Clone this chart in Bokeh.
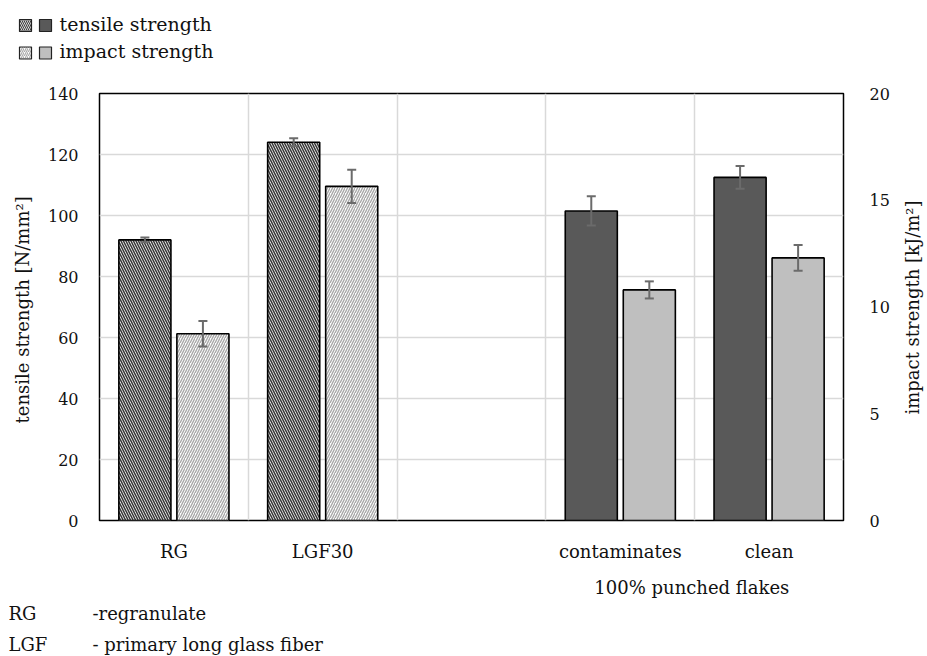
import math
from bokeh.plotting import figure
from bokeh.models import (Range1d, LinearAxis, FixedTicker, Whisker, ColumnDataSource,
                          TeeHead, Grid)
from bokeh.layouts import column, row
from bokeh.core.properties import value
from bokeh.embed import file_html
from bokeh.resources import INLINE

# ---------------- data ----------------
categories = ["RG", "LGF30", "", "contaminates", "clean"]
bar_categories = ["RG", "LGF30", "contaminates", "clean"]
tensile = [92.0, 124.0, 101.5, 112.5]          # N/mm²
tensile_err = [0.8, 1.3, 4.8, 3.7]
impact = [8.75, 15.65, 10.8, 12.3]             # kJ/m²
impact_err = [0.6, 0.78, 0.4, 0.6]
hatched = [True, True, False, False]
left_ticks = [0, 20, 40, 60, 80, 100, 120, 140]
right_ticks = [0, 5, 10, 15, 20]
left_title = "tensile strength  [N/mm²]"
right_title = "impact strength [kJ/m²]"
group_label = "100% punched  flakes"
group_members = ["contaminates", "clean"]
series_names = ["tensile strength", "impact strength"]
footnote_abbr = ["RG", "LGF"]
footnote_text = ["-regranulate", "- primary  long glass fiber"]

FONT = "DejaVu Serif"
TEXT = "#111111"
DARK = "#595959"
LIGHT = "#bfbfbf"
HATCH_DARK = "#3a3a3a"
HATCH_LIGHT = "#a8a8a8"
GRID = "#d9d9d9"
ERR = "#6b6b6b"

pos = {c: i + 0.5 for i, c in enumerate(categories)}
OFF = 0.195
BW = 0.35

TOP_H, MAIN_H, FOOT_H = 78, 522, 56
MAIN_W, RL_W = 896, 31
TOTAL_W = MAIN_W + RL_W


def blank_fig(w, h):
    f = figure(width=w, height=h, x_range=Range1d(0, w), y_range=Range1d(h, 0),
               x_axis_type=None, y_axis_type=None, output_backend="svg",
               toolbar_location=None, min_border=0)
    f.outline_line_color = None
    f.background_fill_color = "white"
    f.border_fill_color = "white"
    f.frame_align = False
    return f


# ---------------- main chart ----------------
p = figure(width=MAIN_W, height=MAIN_H, x_range=Range1d(0, len(categories)),
           y_range=Range1d(0, left_ticks[-1]),
           x_axis_type=None, y_axis_type=None, output_backend="svg", toolbar_location=None,
           min_border_left=99, min_border_right=53, min_border_top=15, min_border_bottom=79)
p.extra_y_ranges = {"impact": Range1d(0, right_ticks[-1])}
p.background_fill_color = "white"
p.border_fill_color = "white"
p.outline_line_color = "black"
p.outline_line_width = 1.5

p.add_layout(Grid(dimension=0, ticker=FixedTicker(ticks=[1, 2, 3, 4]),
                  grid_line_color=GRID, grid_line_width=1.5))
p.add_layout(Grid(dimension=1, ticker=FixedTicker(ticks=left_ticks),
                  grid_line_color=GRID, grid_line_width=1.5))


def style_axis(ax, size="16px"):
    ax.axis_line_color = None
    ax.major_tick_line_color = None
    ax.minor_tick_line_color = None
    ax.major_tick_out = 0
    ax.major_tick_in = 0
    ax.minor_tick_out = 0
    ax.minor_tick_in = 0
    ax.major_label_text_font = FONT
    ax.major_label_text_font_size = size
    ax.major_label_text_color = TEXT
    ax.axis_label_text_font = FONT
    ax.axis_label_text_font_size = "18px"
    ax.axis_label_text_font_style = "normal"
    ax.axis_label_text_color = TEXT


yl = LinearAxis(ticker=FixedTicker(ticks=left_ticks), axis_label=left_title)
style_axis(yl)
yl.major_label_standoff = 21
yl.axis_label_standoff = 12
p.add_layout(yl, "left")

yr = LinearAxis(y_range_name="impact", ticker=FixedTicker(ticks=right_ticks))
style_axis(yr)
yr.major_label_standoff = 26
p.add_layout(yr, "right")

xb = LinearAxis(ticker=FixedTicker(ticks=[pos[c] for c in bar_categories]),
                major_label_overrides={pos[c]: c for c in bar_categories})
style_axis(xb, "18px")
xb.major_label_standoff = 20
p.add_layout(xb, "below")

gx = sum(pos[c] for c in group_members) / len(group_members)
xg = LinearAxis(ticker=FixedTicker(ticks=[gx]), major_label_overrides={gx: group_label})
style_axis(xg, "18px")
xg.major_label_standoff = 12
p.add_layout(xg, "below")

src_t = ColumnDataSource(dict(
    x=[pos[c] - OFF for c in bar_categories],
    top=tensile,
    lo=[v - e for v, e in zip(tensile, tensile_err)],
    hi=[v + e for v, e in zip(tensile, tensile_err)],
    fill=["white" if h else DARK for h in hatched],
    hatch=["\\" if h else " " for h in hatched],
))
src_i = ColumnDataSource(dict(
    x=[pos[c] + OFF for c in bar_categories],
    top=impact,
    lo=[v - e for v, e in zip(impact, impact_err)],
    hi=[v + e for v, e in zip(impact, impact_err)],
    fill=["white" if h else LIGHT for h in hatched],
    hatch=["/" if h else " " for h in hatched],
))

p.vbar(x="x", top="top", width=BW, source=src_t, fill_color="fill", hatch_pattern="hatch",
       hatch_color=HATCH_DARK, hatch_scale=5, hatch_weight=1.6, line_color="black", line_width=1.6)
p.vbar(x="x", top="top", width=BW, source=src_i, fill_color="fill", hatch_pattern="hatch",
       hatch_color=HATCH_LIGHT, hatch_scale=5, hatch_weight=1.4, line_color="black", line_width=1.6,
       y_range_name="impact")

for src, rng in ((src_t, "default"), (src_i, "impact")):
    p.add_layout(Whisker(source=src, base="x", upper="hi", lower="lo", y_range_name=rng,
                         line_color=ERR, line_width=2, level="overlay",
                         upper_head=TeeHead(size=9, line_color=ERR, line_width=2),
                         lower_head=TeeHead(size=9, line_color=ERR, line_width=2)))

# ---------------- right axis title (reads bottom to top) ----------------
rl = blank_fig(RL_W, MAIN_H)
rl.text(x=[16], y=[15 + 428 / 2], text=[right_title], angle=math.pi / 2,
        text_font=value(FONT), text_font_size="18px", text_color=TEXT,
        text_align="center", text_baseline="middle")

# ---------------- legend (top) ----------------
leg = blank_fig(TOTAL_W, TOP_H)
row_y = [25, 52.5]
hatch_pats = ["\\", "/"]
hatch_cols = [HATCH_DARK, HATCH_LIGHT]
solid_cols = [DARK, LIGHT]
for i, name in enumerate(series_names):
    y0 = row_y[i]
    leg.quad(left=[19], right=[31], top=[y0 - 6], bottom=[y0 + 6], fill_color="white",
             hatch_pattern=hatch_pats[i], hatch_color=hatch_cols[i], hatch_scale=4,
             hatch_weight=1.1, line_color="#222222", line_width=1.2)
    leg.quad(left=[39], right=[51], top=[y0 - 6], bottom=[y0 + 6], fill_color=solid_cols[i],
             line_color="#222222", line_width=1.2)
    leg.text(x=[59], y=[y0 - 2], text=[name], text_font=value(FONT), text_font_size="19px",
             text_color=TEXT, text_baseline="middle", text_align="left")

# ---------------- footnote (bottom) ----------------
foot = blank_fig(TOTAL_W, FOOT_H)
foot_y = [13, 44]
foot.text(x=[8] * len(footnote_abbr), y=foot_y, text=footnote_abbr, text_font=value(FONT),
          text_font_size="18px", text_color=TEXT, text_baseline="middle", text_align="left")
foot.text(x=[92] * len(footnote_text), y=foot_y, text=footnote_text, text_font=value(FONT),
          text_font_size="18px", text_color=TEXT, text_baseline="middle", text_align="left")

layout = column(leg, row(p, rl, spacing=0), foot, spacing=0)
open("out.html", "w").write(file_html(layout, INLINE))
